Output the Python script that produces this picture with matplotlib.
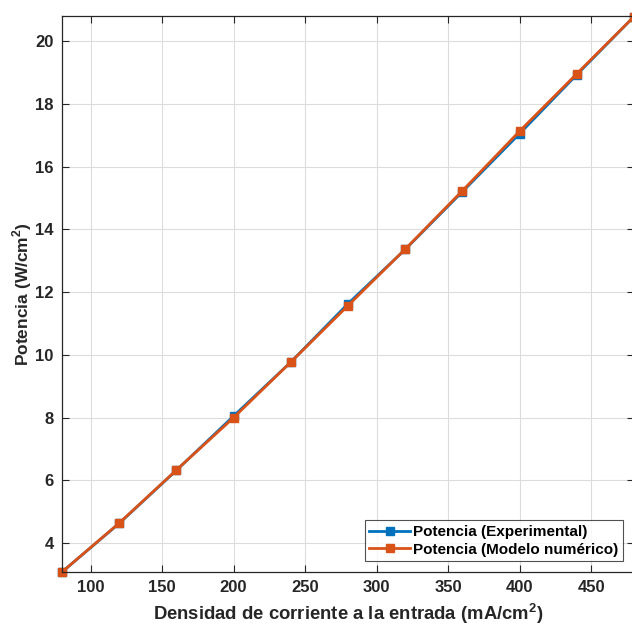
import numpy as np
import matplotlib
matplotlib.use("Agg")
import matplotlib.pyplot as plt

# Densidad de corriente (mA/cm^2) y potencia (W/cm^2)
corriente = [80, 120, 160, 200, 240, 280, 320, 360, 400, 440, 480]
pot_experimental = [3.08, 4.63, 6.32, 8.05, 9.77, 11.63, 13.36, 15.20, 17.05, 18.93, 20.78]
pot_modelo = [3.08, 4.64, 6.33, 8.00, 9.77, 11.57, 13.37, 15.23, 17.13, 18.96, 20.78]

AZUL = "#0072BD"
NARANJA = "#D95319"
TEXTO = "#262626"

plt.rcParams["font.family"] = ["Liberation Sans", "DejaVu Sans"]
plt.rcParams["font.weight"] = "bold"
plt.rcParams["mathtext.fontset"] = "custom"
plt.rcParams["mathtext.bf"] = "Liberation Sans:bold"

fig = plt.figure(figsize=(6.32, 6.29), dpi=100)
ax = fig.add_axes([62 / 632, 1 - 572 / 629, 572 / 632, 556 / 629])

ax.plot(corriente, pot_experimental, "-s", color=AZUL, lw=2, ms=6,
        label="Potencia (Experimental)", clip_on=False)
ax.plot(corriente, pot_modelo, "-s", color=NARANJA, lw=2, ms=6,
        label="Potencia (Modelo numérico)", clip_on=False)

ax.set_xlim(80, 480)
ax.set_ylim(3.08, 20.8)
ax.set_xticks(np.arange(100, 451, 50))
ax.set_yticks(np.arange(4, 21, 2))
ax.grid(True, color="#dcdcdc", lw=0.8)
ax.set_axisbelow(True)

ax.tick_params(direction="in", top=True, right=True, length=5, width=0.8,
               labelsize=12, colors=TEXTO, pad=6)
for lbl in ax.get_xticklabels() + ax.get_yticklabels():
    lbl.set_fontweight("bold")
for s in ax.spines.values():
    s.set_color(TEXTO)
    s.set_linewidth(0.9)

ax.set_xlabel("Densidad de corriente a la entrada (mA/cm$^\\mathbf{2}$)",
              fontsize=13.3, fontweight="bold", color=TEXTO, labelpad=5)
ax.set_ylabel("Potencia (W/cm$^\\mathbf{2}$)", fontsize=12.5, fontweight="bold",
              color=TEXTO, labelpad=1)

leg = ax.legend(loc="lower right", fontsize=11, frameon=True, fancybox=False,
                edgecolor=TEXTO, borderpad=0.3, handlelength=2.7,
                handletextpad=0.2, labelspacing=0.25, borderaxespad=0.7)
leg.get_frame().set_linewidth(0.8)
for t in leg.get_texts():
    t.set_fontweight("bold")

fig.savefig("out.png", dpi=100)
